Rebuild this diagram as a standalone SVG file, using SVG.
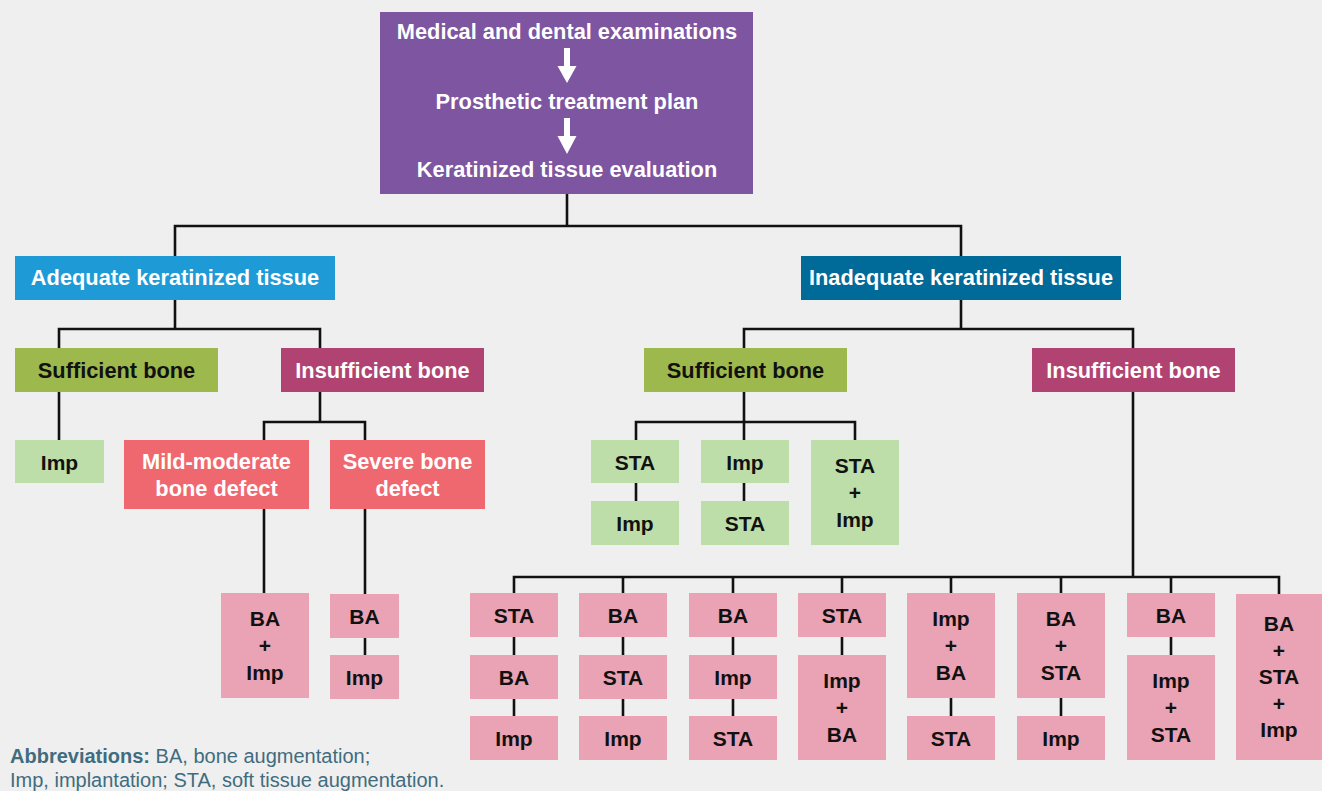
<svg xmlns="http://www.w3.org/2000/svg" width="1322" height="791" viewBox="0 0 1322 791">
<style>
text{font-family:"Liberation Sans",Arial,sans-serif;font-weight:bold;font-size:21px;text-anchor:middle}
.h{font-size:21.8px}
.w{fill:#ffffff}
.k{fill:#111111}
.purple{fill:#7d55a0}
.blue{fill:#1e9bd7}
.dblue{fill:#006a98}
.olive{fill:#9db84c}
.mag{fill:#b04371}
.coral{fill:#f0686f}
.lg{fill:#bddea8}
.pink{fill:#eaa3b4}
.conn path{fill:none;stroke:#111111;stroke-width:2.6;stroke-linecap:square;stroke-linejoin:miter}
.abbr{font-family:"Liberation Sans",Arial,sans-serif;font-size:20px;font-weight:normal;text-anchor:start;fill:#3f6c7e}
</style>
<rect x="0" y="0" width="1322" height="791" fill="#efefef"/>
<g id="connectors" class="conn">
<path d="M567 194V226M175 226H961M175 226V256M961 226V256"/>
<path d="M175 300V329M59 329H320M59 329V348M320 329V348"/>
<path d="M59 392V440"/>
<path d="M320 392V422M264 422H365M264 422V440M365 422V440"/>
<path d="M264 509V593M365 509V594M365 638V655"/>
<path d="M961 300V329M744 329H1133M744 329V348M1133 329V348"/>
<path d="M744 392V422M636 422H855M636 422V440M744 422V440M855 422V440"/>
<path d="M636 483V501M744 483V501"/>
<path d="M1133 392V577M514 577H1279M514 577V593M623 577V593M733 577V593M842 577V593M951 577V593M1061 577V593M1171 577V593M1279 577V594"/>
<path d="M514 637V716M623 637V716M733 637V716M842 637V655M951 698V716M1061 698V716M1171 637V655"/>
</g>
<g id="top">
<rect class="purple" x="380" y="12" width="373" height="182"/>
<text class="w h" x="567" y="39">Medical and dental examinations</text>
<rect class="w" x="564" y="48" width="6" height="20"/>
<polygon class="w" points="557.5,66 576.5,66 567,83"/>
<text class="w h" x="567" y="109">Prosthetic treatment plan</text>
<rect class="w" x="564" y="118" width="6" height="20"/>
<polygon class="w" points="557.5,136 576.5,136 567,154"/>
<text class="w h" x="567" y="177">Keratinized tissue evaluation</text>
</g>
<g id="adequate"><rect class="blue" x="15" y="256" width="320" height="44"/><text class="w h" x="175" y="285">Adequate keratinized tissue</text></g>
<g id="inadequate"><rect class="dblue" x="801" y="256" width="320" height="44"/><text class="w h" x="961" y="285">Inadequate keratinized tissue</text></g>
<g id="suff-left"><rect class="olive" x="15" y="348" width="203" height="44"/><text class="k h" x="116.5" y="377.5">Sufficient bone</text></g>
<g id="insuff-left"><rect class="mag" x="281" y="348" width="203" height="44"/><text class="w h" x="382.5" y="377.5">Insufficient bone</text></g>
<g id="imp-left"><rect class="lg" x="15" y="440" width="89" height="43"/><text class="k" x="59.5" y="469.5">Imp</text></g>
<g id="mild"><rect class="coral" x="124" y="440" width="185" height="69"/><text class="w h" x="216.5" y="468.5">Mild-moderate</text><text class="w h" x="216.5" y="495.5">bone defect</text></g>
<g id="severe"><rect class="coral" x="330" y="440" width="155" height="69"/><text class="w h" x="407.5" y="468.5">Severe bone</text><text class="w h" x="407.5" y="495.5">defect</text></g>
<g id="mild-ba-imp"><rect class="pink" x="221" y="593" width="88" height="105"/><text class="k" x="265" y="626">BA</text><text class="k" x="265" y="653">+</text><text class="k" x="265" y="680">Imp</text></g>
<g id="sev-ba"><rect class="pink" x="330" y="594" width="69" height="44"/><text class="k" x="364.5" y="623.5">BA</text></g>
<g id="sev-imp"><rect class="pink" x="330" y="655" width="69" height="44"/><text class="k" x="364.5" y="684.5">Imp</text></g>
<g id="suff-right"><rect class="olive" x="644" y="348" width="203" height="44"/><text class="k h" x="745.5" y="377.5">Sufficient bone</text></g>
<g id="insuff-right"><rect class="mag" x="1032" y="348" width="203" height="44"/><text class="w h" x="1133.5" y="377.5">Insufficient bone</text></g>
<g id="s1-sta"><rect class="lg" x="591" y="440" width="88" height="43"/><text class="k" x="635" y="469.5">STA</text></g>
<g id="s1-imp"><rect class="lg" x="591" y="501" width="88" height="44"/><text class="k" x="635" y="530.5">Imp</text></g>
<g id="s2-imp"><rect class="lg" x="701" y="440" width="88" height="43"/><text class="k" x="745" y="469.5">Imp</text></g>
<g id="s2-sta"><rect class="lg" x="701" y="501" width="88" height="44"/><text class="k" x="745" y="530.5">STA</text></g>
<g id="s3"><rect class="lg" x="811" y="440" width="88" height="105"/><text class="k" x="855" y="473">STA</text><text class="k" x="855" y="500">+</text><text class="k" x="855" y="527">Imp</text></g>
<g id="c1"><rect class="pink" x="470" y="593" width="88" height="44"/><text class="k" x="514" y="622.5">STA</text><rect class="pink" x="470" y="655" width="88" height="44"/><text class="k" x="514" y="684.5">BA</text><rect class="pink" x="470" y="716" width="88" height="44"/><text class="k" x="514" y="745.5">Imp</text></g>
<g id="c2"><rect class="pink" x="579" y="593" width="88" height="44"/><text class="k" x="623" y="622.5">BA</text><rect class="pink" x="579" y="655" width="88" height="44"/><text class="k" x="623" y="684.5">STA</text><rect class="pink" x="579" y="716" width="88" height="44"/><text class="k" x="623" y="745.5">Imp</text></g>
<g id="c3"><rect class="pink" x="689" y="593" width="88" height="44"/><text class="k" x="733" y="622.5">BA</text><rect class="pink" x="689" y="655" width="88" height="44"/><text class="k" x="733" y="684.5">Imp</text><rect class="pink" x="689" y="716" width="88" height="44"/><text class="k" x="733" y="745.5">STA</text></g>
<g id="c4"><rect class="pink" x="798" y="593" width="88" height="44"/><text class="k" x="842" y="622.5">STA</text><rect class="pink" x="798" y="655" width="88" height="105"/><text class="k" x="842" y="688">Imp</text><text class="k" x="842" y="715">+</text><text class="k" x="842" y="742">BA</text></g>
<g id="c5"><rect class="pink" x="907" y="593" width="88" height="105"/><text class="k" x="951" y="626">Imp</text><text class="k" x="951" y="653">+</text><text class="k" x="951" y="680">BA</text><rect class="pink" x="907" y="716" width="88" height="44"/><text class="k" x="951" y="745.5">STA</text></g>
<g id="c6"><rect class="pink" x="1017" y="593" width="88" height="105"/><text class="k" x="1061" y="626">BA</text><text class="k" x="1061" y="653">+</text><text class="k" x="1061" y="680">STA</text><rect class="pink" x="1017" y="716" width="88" height="44"/><text class="k" x="1061" y="745.5">Imp</text></g>
<g id="c7"><rect class="pink" x="1127" y="593" width="88" height="44"/><text class="k" x="1171" y="622.5">BA</text><rect class="pink" x="1127" y="655" width="88" height="105"/><text class="k" x="1171" y="688">Imp</text><text class="k" x="1171" y="715">+</text><text class="k" x="1171" y="742">STA</text></g>
<g id="c8"><rect class="pink" x="1236" y="594" width="87" height="166"/><text class="k" x="1279" y="631">BA</text><text class="k" x="1279" y="657.5">+</text><text class="k" x="1279" y="684">STA</text><text class="k" x="1279" y="710.5">+</text><text class="k" x="1279" y="737">Imp</text></g>
<g id="abbreviations">
<text class="abbr" x="10" y="763"><tspan font-weight="bold">Abbreviations:</tspan> BA, bone augmentation;</text>
<text class="abbr" x="10" y="787">Imp, implantation; STA, soft tissue augmentation.</text>
</g>
</svg>
